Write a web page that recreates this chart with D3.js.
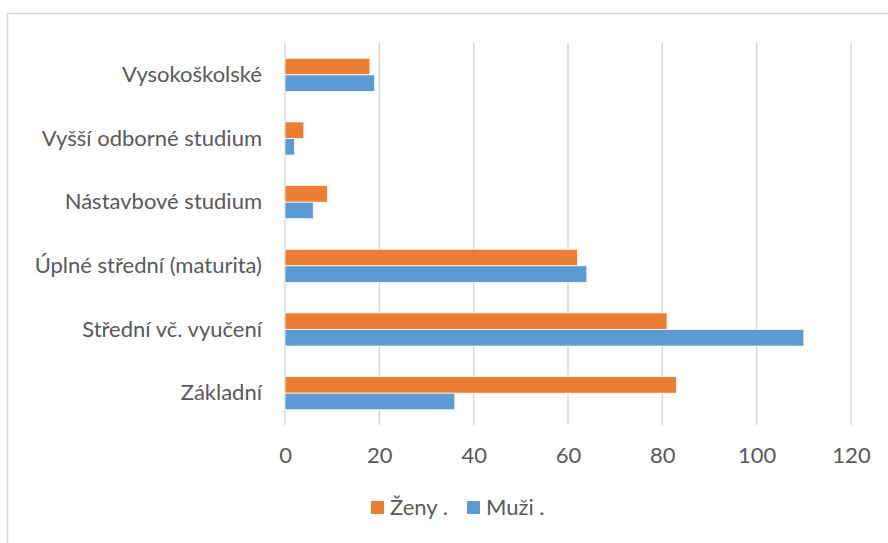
<!DOCTYPE html>
<html>
<head>
<meta charset="utf-8">
<script src="https://cdn.jsdelivr.net/npm/d3@7"></script>
<style>
  body { margin: 0; background: #fff; }
  text { font-family: Lato, "Open Sans", sans-serif; fill: #595959; }
</style>
</head>
<body>
<div id="chart"></div>
<script>
const width = 888, height = 543;

// data, categories listed top to bottom
const categories = ["Vysokoškolské", "Vyšší odborné studium", "Nástavbové studium",
  "Úplné střední (maturita)", "Střední vč. vyučení", "Základní"];
const zeny = [18, 4, 9, 62, 81, 83];
const muzi = [19, 2, 6, 64, 110, 36];
const ticks = [0, 20, 40, 60, 80, 100, 120];
const seriesNames = ["Ženy .", "Muži ."];
const colors = ["#ED7D31", "#5B9BD5"];

const svg = d3.select("#chart").append("svg")
  .attr("width", width)
  .attr("height", height);

// chart border
svg.append("rect")
  .attr("x", 7.5).attr("y", 13.5)
  .attr("width", 1000).attr("height", 600)
  .attr("fill", "none").attr("stroke", "#d9d9d9").attr("stroke-width", 1.5);

const x = d3.scaleLinear().domain([0, 120]).range([285, 851]);
const y = d3.scaleBand().domain(categories).range([43, 425]).paddingInner(0.48).paddingOuter(0.24);
const inner = d3.scaleBand().domain([0, 1]).range([0, y.bandwidth()]);

// gridlines
svg.append("g").selectAll("line")
  .data(ticks)
  .enter().append("line")
  .attr("x1", d => x(d)).attr("x2", d => x(d))
  .attr("y1", 43).attr("y2", 425)
  .attr("stroke", "#d9d9d9").attr("stroke-width", 1.5);

// x axis labels
const xAxis = svg.append("g")
  .attr("transform", "translate(0,425)")
  .call(d3.axisBottom(x).tickValues(ticks).tickSize(0).tickPadding(22));
xAxis.select(".domain").remove();
xAxis.selectAll("text").attr("font-size", "22px").attr("fill", "#595959")
  .style("font-family", "Lato, 'Open Sans', sans-serif");

// y axis labels
const yAxis = svg.append("g")
  .attr("transform", "translate(285,0)")
  .call(d3.axisLeft(y).tickSize(0).tickPadding(23));
yAxis.select(".domain").remove();
yAxis.selectAll("text").attr("font-size", "22px").attr("fill", "#595959")
  .style("font-family", "Lato, 'Open Sans', sans-serif");

const rows = categories.map((c, i) => ({ c, vals: [zeny[i], muzi[i]] }));

const grp = svg.append("g").selectAll("g")
  .data(rows)
  .enter().append("g")
  .attr("transform", d => `translate(0,${y(d.c)})`);

grp.selectAll("rect")
  .data(d => d.vals.map((v, k) => ({ v, k })))
  .enter().append("rect")
  .attr("x", x(0))
  .attr("y", d => inner(d.k))
  .attr("width", d => x(d.v) - x(0))
  .attr("height", inner.bandwidth())
  .attr("fill", d => colors[d.k])
  .attr("stroke", "#fff").attr("stroke-width", 0.75);

// legend
const legendX = [371, 467];
const legend = svg.append("g").selectAll("g")
  .data(seriesNames)
  .enter().append("g")
  .attr("transform", (d, i) => `translate(${legendX[i]},501)`);
legend.append("rect")
  .attr("width", 13).attr("height", 13)
  .attr("fill", (d, i) => colors[i]);
legend.append("text")
  .attr("x", 19).attr("y", 14)
  .attr("font-size", "22px")
  .text(d => d);
</script>
</body>
</html>
